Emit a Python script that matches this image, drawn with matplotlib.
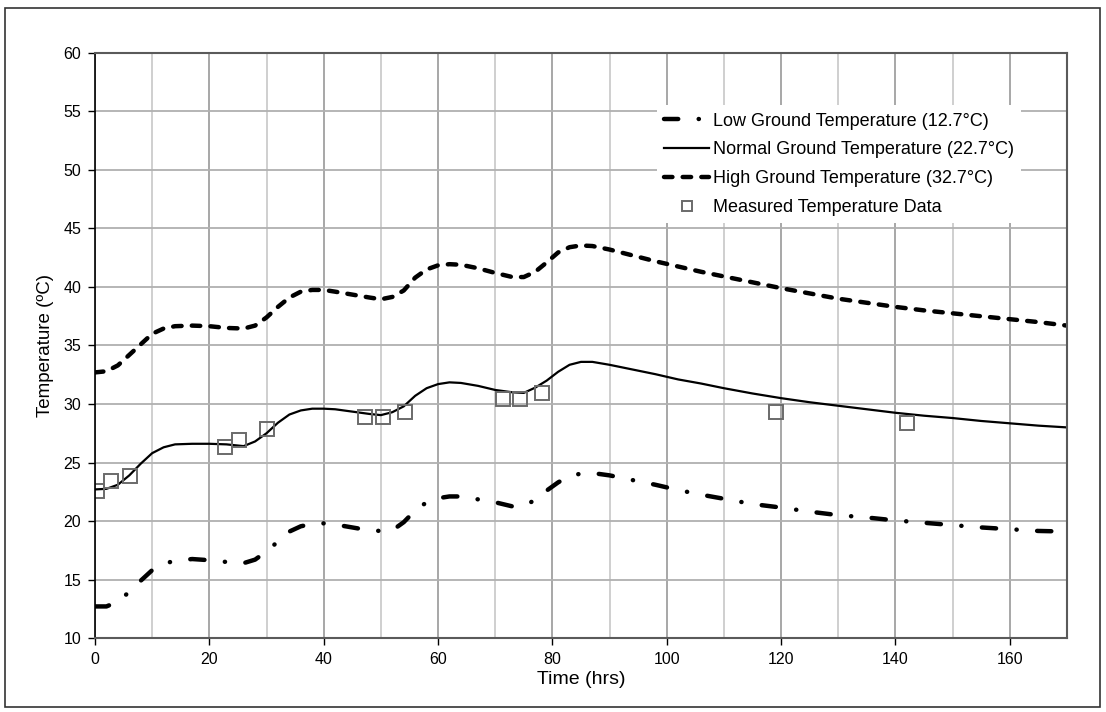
import matplotlib
matplotlib.use("Agg")
import matplotlib.pyplot as plt
from matplotlib.ticker import MultipleLocator
from matplotlib.patches import Rectangle

plt.rcParams['font.family'] = ['Liberation Sans', 'DejaVu Sans']

# model time axis (hrs)
hours = [0, 2, 4, 6, 8, 10, 12, 14, 17, 20, 23, 26, 28, 30, 32, 34, 36, 38, 40,
         42, 45, 48, 50, 52, 54, 56, 58, 60, 62, 64, 67, 70, 73, 75, 77, 79, 81,
         83, 85, 87, 90, 94, 98, 102, 106, 110, 115, 120, 125, 130, 135, 140,
         145, 150, 155, 160, 165, 170]

# predicted temperatures for three ground temperatures
low_temp = [12.7, 12.7, 13.1, 13.95, 14.9, 15.8, 16.35, 16.6, 16.75, 16.65, 16.5,
            16.4, 16.7, 17.4, 18.25, 19.1, 19.55, 19.75, 19.8, 19.7, 19.45, 19.2,
            19.15, 19.2, 19.9, 20.9, 21.6, 21.95, 22.1, 22.1, 21.85, 21.6, 21.25,
            21.3, 21.8, 22.6, 23.3, 23.85, 24.05, 24.1, 23.9, 23.5, 23.1, 22.65,
            22.25, 21.9, 21.45, 21.15, 20.8, 20.5, 20.3, 20.05, 19.85, 19.65,
            19.45, 19.3, 19.15, 19.1]
normal_temp = [22.7, 22.75, 23.1, 23.9, 24.9, 25.8, 26.3, 26.55, 26.6, 26.6, 26.55,
               26.4, 26.8, 27.5, 28.4, 29.1, 29.45, 29.6, 29.6, 29.55, 29.35, 29.15,
               29.05, 29.3, 29.8, 30.7, 31.35, 31.7, 31.85, 31.8, 31.55, 31.2, 31.0,
               30.95, 31.4, 32.0, 32.75, 33.35, 33.6, 33.6, 33.35, 32.95, 32.55,
               32.1, 31.75, 31.35, 30.9, 30.5, 30.15, 29.85, 29.55, 29.25, 29.0,
               28.8, 28.55, 28.35, 28.15, 28.0]
high_temp = [32.7, 32.8, 33.3, 34.2, 35.1, 36.0, 36.45, 36.65, 36.7, 36.65, 36.5,
             36.45, 36.7, 37.4, 38.3, 39.1, 39.6, 39.75, 39.75, 39.6, 39.35, 39.1,
             38.95, 39.15, 39.7, 40.8, 41.5, 41.85, 41.95, 41.9, 41.6, 41.2, 40.85,
             40.85, 41.3, 42.1, 42.95, 43.4, 43.55, 43.5, 43.2, 42.7, 42.2, 41.75,
             41.3, 40.9, 40.4, 39.9, 39.45, 39.0, 38.65, 38.3, 38.0, 37.75, 37.5,
             37.25, 37.0, 36.7]

# field measurements
meas_hours = [0.4, 2.8, 6.2, 22.7, 25.2, 30.1, 47.3, 50.3, 54.2, 71.3, 74.3, 78.1,
              119.1, 142.0]
meas_temp = [22.6, 23.4, 23.85, 26.3, 26.9, 27.9, 28.9, 28.9, 29.35, 30.4, 30.4,
             30.9, 29.35, 28.35]

fig = plt.figure(figsize=(11.06, 7.12), dpi=100)
ax = fig.add_axes([0.0859, 0.1039, 0.8788, 0.8217])

# outer frame around the whole chart
fig.patches.append(Rectangle((5 / 1106, 1 - 707 / 712), 1095 / 1106, 699 / 712,
                             transform=fig.transFigure, fill=False,
                             edgecolor='#333333', linewidth=1.2))

ax.plot(hours, low_temp, color='black', lw=3.2, dash_capstyle='round',
        dashes=(3.2, 4.6, 0.05, 4.6), label='Low Ground Temperature (12.7°C)')
ax.plot(hours, normal_temp, color='black', lw=1.6,
        label='Normal Ground Temperature (22.7°C)')
ax.plot(hours, high_temp, color='black', lw=3.2, dash_capstyle='round',
        dashes=(1.9, 2.3), label='High Ground Temperature (32.7°C)')
ax.plot(meas_hours, meas_temp, linestyle='none', marker='s', markersize=10,
        markerfacecolor='none', markeredgecolor='#6a6a6a', markeredgewidth=1.4,
        label='Measured Temperature Data')

ax.set_xlim(0, 170)
ax.set_ylim(10, 60)
ax.xaxis.set_major_locator(MultipleLocator(20))
ax.xaxis.set_minor_locator(MultipleLocator(10))
ax.yaxis.set_major_locator(MultipleLocator(5))

ax.grid(which='major', axis='x', color='#a0a0a0', lw=1.3)
ax.grid(which='minor', axis='x', color='#cccccc', lw=1.3)
ax.grid(which='major', axis='y', color='#b0b0b0', lw=1.3)
ax.set_axisbelow(True)

ax.tick_params(which='major', direction='out', length=5, width=1, labelsize=11.5,
               colors='black', pad=5)
ax.tick_params(which='minor', length=0)

for side in ['top', 'right', 'bottom']:
    ax.spines[side].set_color('#5a5a5a')
    ax.spines[side].set_linewidth(1.5)
ax.spines['left'].set_color('black')
ax.spines['left'].set_linewidth(1.2)

ax.set_xlabel('Time (hrs)', fontsize=14, labelpad=3)
ax.set_ylabel('Temperature (ºC)', fontsize=13.5, labelpad=7)

leg = ax.legend(loc='upper left', bbox_to_anchor=(0.569, 0.926), fontsize=13,
                frameon=True, fancybox=False, edgecolor='none', framealpha=1,
                handlelength=2.5, handletextpad=0.2, labelspacing=0.66,
                markerscale=0.7, borderpad=0.4)

fig.savefig('out.png', dpi=100)
